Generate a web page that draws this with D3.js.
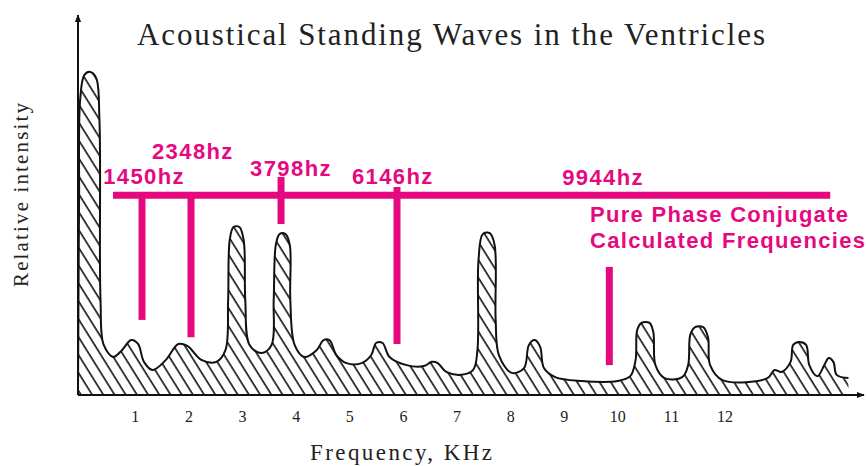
<!DOCTYPE html>
<html>
<head>
<meta charset="utf-8">
<script src="https://cdn.jsdelivr.net/npm/d3@7"></script>
<style>
  body { margin: 0; background: #fff; }
  svg { display: block; }
</style>
</head>
<body>
<div id="container"></div>
<script>
/* DATA */
// spectrum outline: [frequency kHz, relative intensity]
const spectrum = [
  [-0.06, 0], [-0.04, 60], [-0.02, 90.8], [0.06, 98.5], [0.17, 99.4], [0.28, 97.5],
  [0.34, 84.6], [0.36, 29.2], [0.42, 15.4], [0.6, 11.7], [0.76, 13.8], [0.93, 16.9],
  [1.06, 15.7], [1.17, 10.2], [1.33, 7.7], [1.58, 10.8], [1.81, 15.7], [1.98, 15.1],
  [2.24, 10.8], [2.52, 10.2], [2.69, 13.8], [2.74, 29.2], [2.77, 47.7], [2.84, 51.7],
  [2.95, 51.7], [3.03, 47.7], [3.06, 29.2], [3.14, 15.4], [3.36, 12.9], [3.55, 15.4],
  [3.59, 29.2], [3.63, 46.2], [3.7, 49.5], [3.81, 49.5], [3.89, 46.2], [3.9, 29.2],
  [3.98, 15.4], [4.16, 11.7], [4.39, 13.8], [4.52, 16.9], [4.63, 16.9], [4.76, 12.3],
  [4.95, 9.8], [5.23, 9.8], [5.41, 12.3], [5.5, 16], [5.62, 16], [5.75, 11.7],
  [6.07, 9.2], [6.39, 8.9], [6.54, 10.2], [6.65, 9.8], [6.81, 7.1], [7.09, 6.2],
  [7.31, 7.7], [7.39, 13.8], [7.41, 41.5], [7.49, 49.5], [7.62, 49.8], [7.71, 46.2],
  [7.73, 23.1], [7.79, 12.3], [8.03, 6.8], [8.26, 8.3], [8.35, 15.4], [8.46, 16.9],
  [8.56, 14.8], [8.63, 8.3], [8.84, 5.5], [9.34, 4.3], [10.0, 4.3], [10.24, 5.8],
  [10.34, 10.8], [10.37, 20], [10.45, 22.2], [10.6, 22.2], [10.67, 19.4], [10.71, 9.2],
  [10.88, 5.2], [11.21, 5.5], [11.32, 9.2], [11.36, 18.5], [11.45, 20.9], [11.6, 20.9],
  [11.69, 17.8], [11.73, 9.2], [11.96, 4.6], [12.8, 5.2], [12.93, 7.7], [13.06, 7.1],
  [13.23, 10.2], [13.28, 15.4], [13.39, 16.3], [13.52, 15.4], [13.58, 9.2], [13.73, 5.8],
  [13.86, 9.2], [13.94, 11.4], [14.03, 10.2], [14.09, 6.2], [14.31, 5.2]
];

const tickValues = [1, 2, 3, 4, 5, 6, 7, 8, 9, 10, 11, 12];

// pink markers (position on the axis as drawn, in kHz; top/bottom in intensity)
const markerLabels = ["1450hz", "2348hz", "3798hz", "6146hz", "9944hz"];
const markerPos    = [1.134, 2.048, 3.727, 5.89, 9.85];
const markerTop    = [61.5, 61.5, 67.1, 64, 39.4];
const markerBottom = [23.1, 17.8, 52.6, 15.7, 9.2];
const labelPos     = [0.41, 1.32, 3.15, 5.05, 8.97];
const labelLevel   = [64.9, 72.6, 67.4, 64.9, 64.6];

const barFrom = 0.593, barTo = 13.97, barLevel = 61.5;
const noteLines = ["Pure Phase Conjugate", "Calculated Frequencies"];
const noteWidths = [258, 275];

/* CONSTANTS */
const width = 868, height = 466;
const pink = "#e6087f";
const serif = "'Liberation Serif', 'Times New Roman', serif";
const sans = "'Liberation Sans', Arial, sans-serif";

/* SCALES */
const x = d3.scaleLinear().domain([-0.06, 14.6]).range([78, 864]);
const y = d3.scaleLinear().domain([0, 100]).range([395, 70]);

const svg = d3.select("#container")
  .append("svg")
  .attr("width", width)
  .attr("height", height);

const defs = svg.append("defs");

// diagonal hatching
const hatch = defs.append("pattern")
  .attr("id", "hatch")
  .attr("patternUnits", "userSpaceOnUse")
  .attr("width", 9.5)
  .attr("height", 20)
  .attr("patternTransform", "rotate(-32)");
hatch.append("line")
  .attr("x1", 2).attr("y1", -2).attr("x2", 2).attr("y2", 22)
  .attr("stroke", "#111").attr("stroke-width", 1.6);

defs.append("marker")
  .attr("id", "arrow")
  .attr("viewBox", "0 0 10 10")
  .attr("refX", 9).attr("refY", 5)
  .attr("markerWidth", 4).attr("markerHeight", 4)
  .attr("orient", "auto")
  .append("path")
  .attr("d", "M0,1 L10,5 L0,9 Z")
  .attr("fill", "#111");

// hatched area + outline
const area = d3.area()
  .x(d => x(d[0]))
  .y0(y(0))
  .y1(d => y(d[1]))
  .curve(d3.curveCatmullRom.alpha(0.5));

const line = d3.line()
  .x(d => x(d[0]))
  .y(d => y(d[1]))
  .curve(d3.curveCatmullRom.alpha(0.5));

svg.append("path")
  .datum(spectrum)
  .attr("d", area)
  .attr("fill", "url(#hatch)");

svg.append("path")
  .datum(spectrum)
  .attr("d", line)
  .attr("fill", "none")
  .attr("stroke", "#111")
  .attr("stroke-width", 2);

// axes with arrows
svg.append("line")
  .attr("x1", x(-0.06)).attr("y1", y(0))
  .attr("x2", x(14.6)).attr("y2", y(0))
  .attr("stroke", "#111").attr("stroke-width", 2)
  .attr("marker-end", "url(#arrow)");

svg.append("line")
  .attr("x1", x(-0.06)).attr("y1", y(0))
  .attr("x2", x(-0.06)).attr("y2", 15)
  .attr("stroke", "#111").attr("stroke-width", 2)
  .attr("marker-end", "url(#arrow)");

const xAxis = svg.append("g")
  .attr("transform", `translate(0,${y(0)})`)
  .call(d3.axisBottom(x).tickValues(tickValues).tickSize(0).tickPadding(16).tickFormat(d3.format("d")));
xAxis.select(".domain").remove();
xAxis.selectAll("text")
  .style("font-family", serif)
  .style("font-size", "16px")
  .attr("fill", "#222");

// titles
svg.append("text")
  .attr("x", 137).attr("y", 45)
  .attr("textLength", 628)
  .attr("lengthAdjust", "spacing")
  .style("font-family", serif)
  .style("font-size", "31px")
  .attr("fill", "#222")
  .text("Acoustical Standing Waves in the Ventricles");

svg.append("text")
  .attr("x", 310).attr("y", 460)
  .attr("textLength", 182)
  .attr("lengthAdjust", "spacing")
  .style("font-family", serif)
  .style("font-size", "23px")
  .attr("fill", "#222")
  .text("Frequency, KHz");

svg.append("text")
  .attr("transform", "translate(28,287) rotate(-90)")
  .attr("textLength", 184)
  .attr("lengthAdjust", "spacing")
  .style("font-family", serif)
  .style("font-size", "21px")
  .attr("fill", "#222")
  .text("Relative intensity");

// pink overlay
svg.append("line")
  .attr("x1", x(barFrom)).attr("x2", x(barTo))
  .attr("y1", y(barLevel)).attr("y2", y(barLevel))
  .attr("stroke", pink).attr("stroke-width", 7);

svg.selectAll(".marker")
  .data(markerPos)
  .join("line")
  .attr("class", "marker")
  .attr("x1", d => x(d)).attr("x2", d => x(d))
  .attr("y1", (d, i) => y(markerTop[i]))
  .attr("y2", (d, i) => y(markerBottom[i]))
  .attr("stroke", pink).attr("stroke-width", 7);

svg.selectAll(".mlabel")
  .data(markerLabels)
  .join("text")
  .attr("class", "mlabel")
  .attr("x", (d, i) => x(labelPos[i]))
  .attr("y", (d, i) => y(labelLevel[i]))
  .style("font-family", sans)
  .style("font-weight", 700)
  .style("font-size", "22px")
  .style("letter-spacing", "1.4px")
  .attr("fill", pink)
  .text(d => d);

svg.selectAll(".note")
  .data(noteLines)
  .join("text")
  .attr("class", "note")
  .attr("x", 590)
  .attr("y", (d, i) => 222 + i * 26)
  .attr("textLength", (d, i) => noteWidths[i])
  .attr("lengthAdjust", "spacing")
  .style("font-family", sans)
  .style("font-weight", 700)
  .style("font-size", "22px")
  .attr("fill", pink)
  .text(d => d);
</script>
</body>
</html>
